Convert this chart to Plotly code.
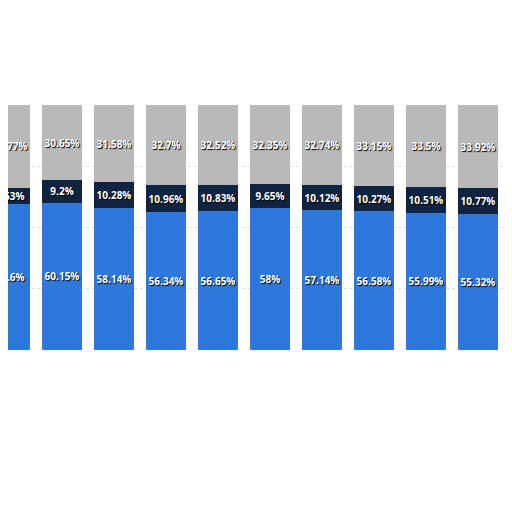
import plotly.graph_objects as go

cats = list(range(11))
blue = [59.6, 60.15, 58.14, 56.34, 56.65, 58.0, 57.14, 56.58, 55.99, 55.32, 55.1]
navy = [6.63, 9.2, 10.28, 10.96, 10.83, 9.65, 10.12, 10.27, 10.51, 10.77, 10.9]
grey = [33.77, 30.65, 31.58, 32.7, 32.52, 32.35, 32.74, 33.15, 33.5, 33.92, 34.0]

def fmt(v):
    s = f"{v:.2f}".rstrip("0").rstrip(".")
    return s + "%"

fig = go.Figure()
for vals, col in [(blue, "#2e78db"), (navy, "#0f2440"), (grey, "#b9b9b9")]:
    fig.add_bar(x=cats, y=vals, marker=dict(color=col, line=dict(width=0)),
                text=[fmt(v) for v in vals], textposition="inside",
                insidetextanchor="middle", constraintext="none",
                textangle=0, cliponaxis=True,
                textfont=dict(color="white", size=10, family="Open Sans",
                              weight="bold", shadow="1px 1px 1px black"))
fig.update_layout(barmode="stack", bargap=0.23, width=512, height=512,
                  margin=dict(l=0, r=0, t=97, b=170, autoexpand=False), showlegend=False,
                  paper_bgcolor="white", plot_bgcolor="white",
                  uniformtext=dict(minsize=9, mode="show"))
fig.update_xaxes(range=[-0.038, 9.808], visible=False)
fig.update_yaxes(range=[0, 100], showticklabels=False, zeroline=False,
                 gridcolor="#dddddd", griddash="dot", tickvals=[25, 50, 75],
                 showline=True, mirror=True, linecolor="#cccccc")
fig.write_html("out.html")
